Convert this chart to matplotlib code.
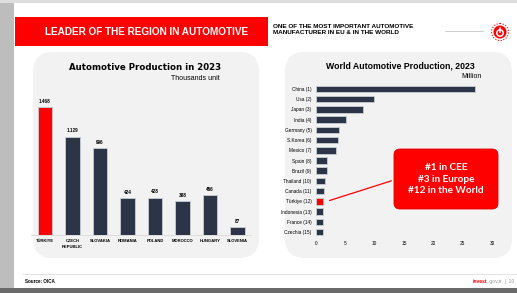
import matplotlib
matplotlib.use("Agg")
import matplotlib.pyplot as plt
from matplotlib.patches import Rectangle, FancyBboxPatch, Circle

# data
eu_countries = ["TÜRKIYE", "CZECH\nREPUBLIC", "SLOVAKIA", "ROMANIA", "POLAND", "MOROCCO", "HUNGARY", "SLOVENIA"]
eu_values = [1468, 1129, 996, 424, 428, 388, 456, 87]
eu_labels = ["1.468", "1.129", "996", "424", "428", "388", "456", "87"]

world_countries = ["China (1)", "Usa (2)", "Japan (3)", "India (4)", "Germany (5)", "S.Korea (6)",
                   "Mexico (7)", "Spain (8)", "Brazil (9)", "Thailand (10)", "Canada (11)",
                   "Türkiye (12)", "Indonesia (13)", "France (14)", "Czechia (15)"]
world_values = [27.0, 9.9, 8.0, 5.1, 4.0, 3.8, 3.45, 2.0, 2.0, 1.65, 1.4, 1.3, 1.2, 1.2, 1.2]
world_ticks = [0, 5, 10, 15, 20, 25, 30]

RED = "#ff0000"
NAVY = "#2b3547"
PANEL = "#f2f2f2"

W, H = 517, 293
fig = plt.figure(figsize=(W / 100, H / 100), dpi=100)
fig.patch.set_facecolor("white")

# background layer in pixel coords
bg = fig.add_axes([0, 0, 1, 1])
bg.set_xlim(0, W)
bg.set_ylim(H, 0)
bg.axis("off")

bg.add_patch(Rectangle((0, 0), 14, H, color="#bdbdbd", lw=0))
bg.add_patch(Rectangle((0, 0), W, 3, color="#dedede", lw=0))
bg.add_patch(Rectangle((0, 288), W, 5, color="#6a6a6a", lw=0))

# header
bg.add_patch(Rectangle((15, 17), 253, 29, color=RED, lw=0))
bg.text(147, 32, "LEADER OF THE REGION IN AUTOMOTIVE", color="white", fontsize=7.2,
        fontweight="bold", family="Liberation Sans", ha="center", va="center")
bg.text(273, 29.5, "ONE OF THE MOST IMPORTANT AUTOMOTIVE\nMANUFACTURER IN EU & IN THE WORLD",
        fontsize=4.6, fontweight="bold", family="Liberation Sans", ha="left", va="center",
        linespacing=1.3)
bg.plot([445, 483], [31, 31], color="#c8c8c8", lw=0.6)
bg.add_patch(Circle((500, 32), 8.5, fc="none", ec=RED, lw=0.8, ls=(0, (1, 1.5))))
bg.add_patch(Circle((500, 32), 6.5, fc=RED, ec="none"))
bg.add_patch(Circle((500, 33), 3.2, fc="none", ec="white", lw=1.1))
bg.plot([500, 500], [28, 31.5], color="white", lw=1.1)

# panels
bg.add_patch(FancyBboxPatch((33, 52), 226, 206, boxstyle="round,pad=0,rounding_size=20",
                            fc=PANEL, ec="none"))
bg.add_patch(FancyBboxPatch((285, 52), 227, 206, boxstyle="round,pad=0,rounding_size=20",
                            fc=PANEL, ec="none"))

# footer
bg.plot([23, W], [274, 274], color="#dddddd", lw=0.6)
bg.text(25, 281.5, "Source: OICA", fontsize=3.3, fontweight="bold", family="Liberation Sans",
        va="center")
bg.text(473, 281.5, "invest", fontsize=3.6, fontweight="bold", color=RED,
        family="Liberation Sans", va="center")
bg.text(488, 281.5, ".gov.tr  |  10", fontsize=3.6, color="#999999",
        family="Liberation Sans", va="center")

# chart titles
bg.text(145, 68, "Automotive Production in 2023", fontsize=6.2, fontweight="bold",
        family="DejaVu Sans", ha="center", va="center")
bg.text(220, 78.5, "Thousands unit", fontsize=5, family="Liberation Sans", ha="right", va="center")
bg.text(400, 66, "World Automotive Production, 2023", fontsize=6.3, fontweight="bold",
        family="Liberation Sans", ha="center", va="center")
bg.text(482, 76.5, "Million", fontsize=5, family="Liberation Sans", ha="right", va="center")


def px_axes(x0, y0, x1, y1):
    return fig.add_axes([x0 / W, 1 - y1 / H, (x1 - x0) / W, (y1 - y0) / H])


# left chart: regional production
ax1 = px_axes(31.25, 87, 251.25, 235)
ax1.patch.set_alpha(0)
x = range(len(eu_countries))
colors = [RED] + [NAVY] * (len(eu_countries) - 1)
ax1.bar(x, eu_values, width=0.52, color=colors, edgecolor="#c9cdd3", linewidth=0.6)
for i, (v, lab) in enumerate(zip(eu_values, eu_labels)):
    ax1.text(i, v + 40, lab, fontsize=3.3, fontweight="bold", ha="center", va="bottom",
             family="Liberation Sans")
ax1.set_xlim(-0.5, 7.5)
ax1.set_ylim(0, 1700)
ax1.set_xticks(list(x))
ax1.set_xticklabels(eu_countries, fontsize=3.0, fontweight="bold", family="Liberation Sans",
                    linespacing=1.6)
ax1.tick_params(axis="x", length=0, pad=3)
ax1.set_yticks([])
for s in ["top", "right", "left"]:
    ax1.spines[s].set_visible(False)
ax1.spines["bottom"].set_color("#d9d9d9")
ax1.spines["bottom"].set_linewidth(0.6)

# right chart: world production
ax2 = px_axes(315.7, 83.9, 492.3, 237.1)
ax2.patch.set_alpha(0)
y = list(range(len(world_countries)))
wcolors = [RED if c.startswith("Türkiye") else NAVY for c in world_countries]
ax2.barh(y, world_values, height=0.64, color=wcolors, edgecolor="#c9cdd3", linewidth=0.6)
ax2.set_ylim(14.5, -0.5)
ax2.set_xlim(0, 30)
ax2.set_yticks(y)
ax2.set_yticklabels(world_countries, fontsize=3.4, family="Liberation Sans")
ax2.set_xticks(world_ticks)
ax2.set_xticklabels([str(t) for t in world_ticks], fontsize=3.4, family="Liberation Sans")
ax2.tick_params(length=0, pad=3)
for s in ax2.spines.values():
    s.set_visible(False)

# callout box
bg.add_patch(FancyBboxPatch((394, 149), 104, 60, boxstyle="round,pad=0,rounding_size=6",
                            fc=RED, ec="#e00000", lw=0.6))
bg.text(446, 179, "#1 in CEE\n#3 in Europe\n#12 in the World", color="white", fontsize=7.2,
        fontweight="bold", family="Lato", ha="center", va="center", linespacing=1.4)
ax2.annotate("", xy=(1.9, 11), xycoords="data", xytext=(394 / W, 1 - 180 / H),
             textcoords="figure fraction",
             arrowprops=dict(arrowstyle="-", color=RED, lw=0.9))

fig.savefig("out.png", dpi=100, facecolor="white")
